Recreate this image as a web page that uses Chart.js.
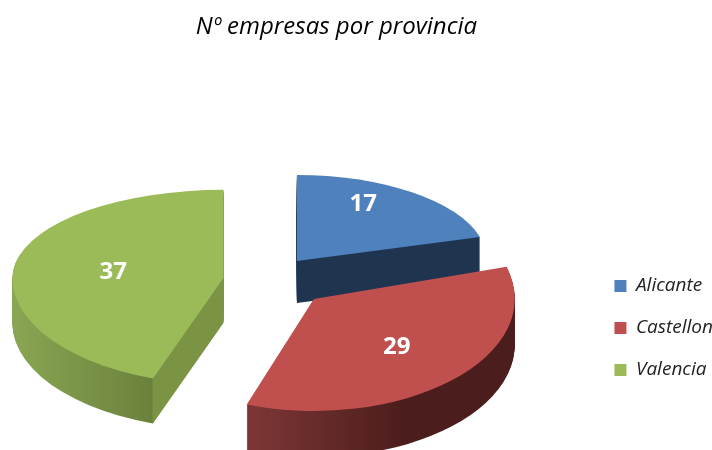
<!DOCTYPE html>
<html>
<head>
<meta charset="utf-8">
<style>
    html, body { margin: 0; padding: 0; background: #fff; }
    canvas { display: block; }
</style>
<script src="https://cdn.jsdelivr.net/npm/chart.js@4"></script>
</head>
<body>
<canvas id="empresas" width="712" height="450"></canvas>
<script>
const chartTitle = 'Nº empresas por provincia';
const provincias = ['Alicante', 'Castellon', 'Valencia'];
const empresas = [17, 29, 37];
const colores = ['#4f81bd', '#c0504d', '#9bbb59'];

// how each slice is faked into 3D, same order as provincias
const explode = [37, 57, 52];
const flattenBack = [0.42, 0.56, 0.43];
const flattenFront = [0.42, 0.546, 0.52];
const stretch = [0.93, 0.98, 1.03];
const drop = [-2, 0, 6];
const depth = [42, 46, 45];
const sideStops = [
    [[0, '#1f344f'], [1, '#1f344f']],
    [[0.36, '#7a3534'], [0.73, '#4b1d1c'], [1, '#4b1d1c']],
    [[0, '#8aa653'], [0.33, '#6a813c'], [0.335, '#7a9444'], [1, '#7a9444']]
];
const labelRadius = [0.58, 0.6, 0.53];
const labelLift = [17, 0, -2];
const drawOrder = [0, 2, 1];

function drawHalf(chart, el, i, originX, originY, flat, clipTop, clipBottom) {
    let ctx = chart.ctx;
    ctx.save();
    ctx.beginPath();
    ctx.rect(0, clipTop, chart.width, clipBottom - clipTop);
    ctx.clip();
    ctx.translate(originX, originY);
    ctx.scale(stretch[i], flat);
    ctx.translate(-el.x, -el.y);
    el.draw(ctx);
    ctx.restore();
}

let pie3d = {
    id: 'pie3d',
    afterLayout(chart) {
        chart.titleBlock.left -= 4;
        chart.titleBlock.right -= 4;
        chart.legend.left += 42;
        chart.legend.right += 42;
        chart.legend.top += 103;
        chart.legend.bottom += 103;
    },
    beforeDatasetDraw(chart, args) {
        let ctx = chart.ctx;
        let arcs = args.meta.data;
        for (let i of drawOrder) {
            let el = arcs[i];
            let mid = (el.startAngle + el.endAngle) / 2;
            let sinMid = Math.sin(mid);
            let dx = explode[i] * Math.cos(mid);
            let dy = explode[i] * sinMid * (sinMid < 0 ? flattenBack[i] : flattenFront[i]) + drop[i];
            let top = el.options;
            let r = el.outerRadius;
            let side = ctx.createLinearGradient(el.x - r, 0, el.x + r, 0);
            for (let stop of sideStops[i]) {
                side.addColorStop(stop[0], stop[1]);
            }
            for (let d = depth[i]; d >= 0; d--) {
                let originX = el.x + dx;
                let originY = Math.round(el.y + dy) + d;
                el.options = d > 0 ? Object.assign({}, top, { backgroundColor: side }) : top;
                drawHalf(chart, el, i, originX, originY, flattenBack[i], 0, originY);
                drawHalf(chart, el, i, originX, originY, flattenFront[i], originY, chart.height);
                el.options = top;
            }
        }
        // value labels on top of the slices
        ctx.save();
        ctx.fillStyle = '#fff';
        ctx.font = 'bold 24px "Open Sans"';
        ctx.textAlign = 'center';
        ctx.textBaseline = 'middle';
        arcs.forEach((el, i) => {
            let mid = (el.startAngle + el.endAngle) / 2;
            let sinMid = Math.sin(mid);
            let flat = sinMid < 0 ? flattenBack[i] : flattenFront[i];
            let x = el.x + (el.outerRadius * labelRadius[i] * stretch[i] + explode[i]) * Math.cos(mid);
            let y = el.y + (el.outerRadius * labelRadius[i] + explode[i]) * sinMid * flat + drop[i] - labelLift[i];
            ctx.fillText(empresas[i], x, y);
        });
        ctx.restore();
        return false;
    }
};

new Chart(document.getElementById('empresas').getContext('2d'), {
    type: 'pie',
    data: {
        labels: provincias,
        datasets: [{
            data: empresas,
            backgroundColor: colores,
            borderWidth: 0
        }]
    },
    plugins: [pie3d],
    options: {
        responsive: false,
        animation: false,
        events: [],
        radius: 205,
        layout: { padding: { right: 31 } },
        plugins: {
            title: {
                display: true,
                text: chartTitle,
                color: '#000',
                font: { family: '"Open Sans"', size: 24, style: 'italic', weight: '500' },
                padding: { top: 13, bottom: 60 }
            },
            legend: {
                position: 'right',
                labels: {
                    boxWidth: 12,
                    boxHeight: 12,
                    padding: 23,
                    color: '#222',
                    font: { family: '"Open Sans"', size: 19, style: 'italic' }
                }
            },
            tooltip: { enabled: false }
        }
    }
});
</script>
</body>
</html>
